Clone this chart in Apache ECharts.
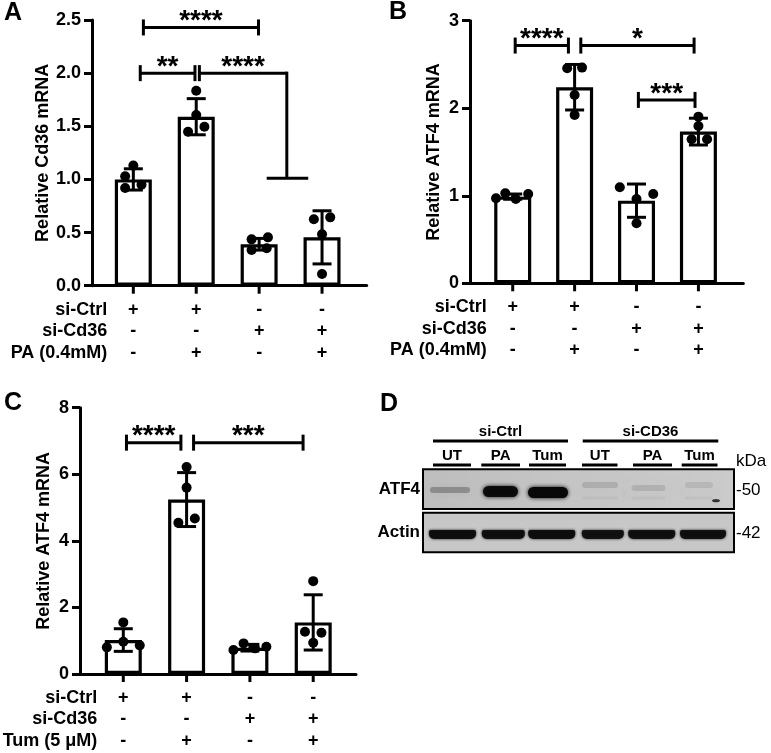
<!DOCTYPE html>
<html>
<head>
<meta charset="utf-8">
<script src="https://cdn.jsdelivr.net/npm/echarts@6/dist/echarts.min.js"></script>
<style>
html, body { margin: 0; padding: 0; background: #fff; }
#chart { width: 771px; height: 753px; }
</style>
</head>
<body>
<div id="chart"></div>
<script>
// treatment table under the bars
let siCtrl = ['+', '+', '-', '-']
let siCd36 = ['-', '-', '+', '+']
let drug = ['-', '+', '-', '+']

// A: Cd36 mRNA
let meanA = [1.0, 1.59, 0.39, 0.455]
let sdA = [0.1, 0.17, 0.055, 0.25]
let dotsA = [[1.13, 1.03, 0.92, 0.95], [1.834, 1.606, 1.449, 1.496], [0.436, 0.455, 0.336, 0.352], [0.625, 0.643, 0.483, 0.11]]
let jitA = [[0, -0.13, -0.13, 0.13], [0, 0, -0.13, 0.13], [-0.12, 0.14, -0.12, 0.12], [-0.13, 0.13, 0, 0]]
// [from, to, height, stars, drop to, cross from, cross to]
let sigA = [
  [0.16, 1.99, 2.43, '****'],
  [0.11, 0.98, 2.0, '**'],
  [1.05, 2.44, 2.0, '****', 1.01, 2.12, 2.78]
]

// B: ATF4 mRNA (PA)
let meanB = [0.99, 2.24, 0.944, 1.733]
let sdB = [0.03, 0.26, 0.19, 0.153]
let dotsB = [[0.971, 1.029, 0.963, 1.02], [2.457, 2.464, 2.152, 1.923], [1.097, 0.963, 1.02, 0.686], [1.904, 1.798, 1.646, 1.646]]
let jitB = [[-0.27, -0.12, 0.05, 0.25], [-0.12, 0.12, 0, 0], [-0.27, 0, 0.27, 0], [0, 0, -0.11, 0.14]]
let sigB = [
  [0.04, 0.9, 2.716, '****'],
  [1.1, 2.93, 2.716, '*'],
  [2.03, 2.945, 2.095, '***']
]

// C: ATF4 mRNA (Tum)
let meanC = [1.02, 5.24, 0.79, 1.55]
let sdC = [0.34, 0.81, 0.1, 0.83]
let dotsC = [[1.55, 0.97, 0.8, 0.86], [6.22, 5.6, 4.54, 4.67], [0.72, 0.92, 0.77, 0.82], [2.79, 1.27, 1.24, 0.94]]
let jitC = [[0, 0, -0.26, 0.26], [0, 0, -0.13, 0.13], [-0.26, -0.1, 0.08, 0.26], [0, -0.13, 0.13, 0]]
let sigC = [
  [0.05, 0.91, 6.95, '****'],
  [1.11, 2.84, 6.95, '***']
]

// D: western blot
let groups = ['si-Ctrl', 'si-CD36']
let lanes = ['UT', 'PA', 'Tum', 'UT', 'PA', 'Tum']
let atf4Level = [0.26, 0.95, 1.0, 0.12, 0.11, 0.09]
let actinLevel = [0.95, 0.93, 0.95, 0.9, 0.92, 0.93]
let kda = ['-50', '-42']

const FONT = 'Liberation Sans'
const INK = '#000'

let panels = [
  { grid: { left: 92, top: 20, width: 274.7, height: 265.7 }, xMin: -0.657, xMax: 3.71, yMax: 2.5, yStep: 0.5, dec: 1,
    name: 'Relative Cd36 mRNA', nameGap: 39, mean: meanA, sd: sdA, dots: dotsA, jit: jitA, sig: sigA,
    rows: ['si-Ctrl', 'si-Cd36', 'PA (0.4mM)'], marks: [siCtrl, siCd36, drug] },
  { grid: { left: 470, top: 20.7, width: 273.3, height: 262.6 }, xMin: -0.69, xMax: 3.725, yMax: 3, yStep: 1, dec: 0,
    name: 'Relative ATF4 mRNA', nameGap: 27, mean: meanB, sd: sdB, dots: dotsB, jit: jitB, sig: sigB,
    rows: ['si-Ctrl', 'si-Cd36', 'PA (0.4mM)'], marks: [siCtrl, siCd36, drug] },
  { grid: { left: 80, top: 407.7, width: 276, height: 266.3 }, xMin: -0.684, xMax: 3.676, yMax: 8, yStep: 2, dec: 0,
    name: 'Relative ATF4 mRNA', nameGap: 27, mean: meanC, sd: sdC, dots: dotsC, jit: jitC, sig: sigC,
    rows: ['si-Ctrl', 'si-Cd36', 'Tum (5 \u03bcM)'], marks: [siCtrl, siCd36, drug] }
]

let rowOff = [24, 45.5, 67]

function txt(text, x, y, size, bold, align) {
  return { type: 'text', style: { text: text, x: x, y: y, fill: INK, fontSize: size, fontWeight: bold ? 'bold' : 'normal',
    fontFamily: FONT, align: align || 'center', verticalAlign: 'middle' } }
}
function seg(x1, y1, x2, y2, w) {
  return { type: 'line', shape: { x1: x1, y1: y1, x2: x2, y2: y2 }, style: { stroke: INK, lineWidth: w || 3 } }
}

let grids = [], xAxes = [], yAxes = [], series = []
panels.forEach((p, k) => {
  grids.push(p.grid)
  xAxes.push({ type: 'value', gridIndex: k, min: p.xMin, max: p.xMax,
    axisLine: { show: true, onZero: false, lineStyle: { color: INK, width: 3 } },
    axisTick: { show: false }, axisLabel: { show: false }, splitLine: { show: false } })
  yAxes.push({ type: 'value', gridIndex: k, min: 0, max: p.yMax, interval: p.yStep,
    name: p.name, nameLocation: 'middle', nameGap: p.nameGap,
    nameTextStyle: { color: INK, fontSize: 18, fontWeight: 'bold', fontFamily: FONT },
    axisLine: { show: true, onZero: false, lineStyle: { color: INK, width: 3 } },
    axisTick: { show: true, length: 8, lineStyle: { color: INK, width: 3 } },
    axisLabel: { color: INK, fontSize: 18, fontWeight: 'bold', fontFamily: FONT, margin: 11,
      formatter: v => v.toFixed(p.dec) },
    splitLine: { show: false } })

  series.push({ type: 'bar', xAxisIndex: k, yAxisIndex: k, silent: true, z: 2,
    barWidth: 37, data: p.mean.map((v, i) => [i, v]),
    itemStyle: { color: '#fff', borderColor: INK, borderWidth: 3.2 } })

  series.push({ type: 'custom', xAxisIndex: k, yAxisIndex: k, silent: true, z: 3,
    data: p.mean.map((v, i) => [i, v - p.sd[i], v + p.sd[i]]),
    encode: { x: 0, y: [1, 2] },
    renderItem: (params, api) => {
      let lo = api.coord([api.value(0), api.value(1)])
      let hi = api.coord([api.value(0), api.value(2)])
      let h = 9.5
      return { type: 'group', children: [
        seg(lo[0], lo[1], hi[0], hi[1]),
        seg(lo[0] - h, lo[1], lo[0] + h, lo[1]),
        seg(hi[0] - h, hi[1], hi[0] + h, hi[1])
      ] }
    } })

  let pts = []
  p.dots.forEach((arr, i) => arr.forEach((v, j) => pts.push([i + p.jit[i][j], v])))
  series.push({ type: 'scatter', xAxisIndex: k, yAxisIndex: k, silent: true, z: 4,
    symbolSize: 10, data: pts, itemStyle: { color: INK, opacity: 1 } })

  series.push({ type: 'custom', xAxisIndex: k, yAxisIndex: k, silent: true, z: 5,
    data: p.sig.map(s => [s[0], s[2], s[1]]),
    encode: { x: [0, 2], y: 1 },
    renderItem: (params, api) => {
      let s = p.sig[params.dataIndex]
      let a = api.coord([s[0], s[2]])
      let b = api.coord([s[1], s[2]])
      let kids = [seg(a[0], a[1], b[0], b[1]), seg(a[0], a[1] - 8, a[0], a[1] + 8)]
      if (s[4] == null) {
        kids.push(seg(b[0], b[1] - 8, b[0], b[1] + 8))
      } else {
        let d = api.coord([s[1], s[4]])
        let c1 = api.coord([s[5], s[4]])
        let c2 = api.coord([s[6], s[4]])
        kids.push(seg(b[0], b[1] - 1.5, d[0], d[1]))
        kids.push(seg(c1[0], c1[1], c2[0], c2[1]))
      }
      kids.push(txt(s[3], (a[0] + b[0]) / 2, a[1] - 6, 28, true))
      return { type: 'group', children: kids }
    } })

  series.push({ type: 'custom', xAxisIndex: k, yAxisIndex: k, silent: true, z: 5,
    data: p.mean.map((v, i) => [i, 0]),
    renderItem: (params, api) => {
      let i = params.dataIndex
      let o = api.coord([i, 0])
      let kids = [seg(o[0], o[1], o[0], o[1] + 8)]
      p.marks.forEach((row, r) => {
        kids.push(txt(row[i], o[0], o[1] + rowOff[r], 18, true))
        if (i === 0) kids.push(txt(p.rows[r], o[0] - 26, o[1] + rowOff[r], 18, true, 'right'))
      })
      return { type: 'group', children: kids }
    } })
})

// blot panel
let laneX = [452, 500.7, 547.5, 599.8, 652.5, 699.6]
let laneSpan = [[433, 471], [481.3, 520], [529, 566], [582, 617.5], [633, 672], [681.7, 717.5]]
let groupSpan = [[433, 568], [582.7, 718.3]]
let blot = []
groups.forEach((g, i) => {
  let s = groupSpan[i]
  blot.push(txt(g, (s[0] + s[1]) / 2, 432, 15, true))
  blot.push(seg(s[0], 441, s[1], 441, 3))
})
lanes.forEach((l, i) => {
  let s = laneSpan[i]
  blot.push(txt(l, laneX[i], 456, 15, true))
  blot.push(seg(s[0], 465, s[1], 465, 3))
})
blot.push(txt('kDa', 736, 461, 17, false, 'left'))
blot.push({ type: 'rect', shape: { x: 423, y: 469.3, width: 311, height: 39.7 },
  style: { fill: { type: 'linear', x: 0, y: 0, x2: 1, y2: 0, colorStops: [
    { offset: 0, color: '#bdbdbd' }, { offset: 0.5, color: '#c6c6c6' }, { offset: 1, color: '#cbcbcb' }] },
    stroke: INK, lineWidth: 2 } })
blot.push({ type: 'rect', shape: { x: 423, y: 512.7, width: 311, height: 39.5 },
  style: { fill: '#c7c7c7', stroke: INK, lineWidth: 2 } })
blot.push(txt('ATF4', 420, 489.5, 17, true, 'right'))
blot.push(txt('Actin', 420, 532, 17, true, 'right'))
blot.push(txt(kda[0], 736, 490, 17, false, 'left'))
blot.push(txt(kda[1], 736, 533, 17, false, 'left'))

let atf4X = [450, 500.5, 548, 600, 648.5, 699]
let atf4Y = [490, 491.5, 492.5, 485, 488, 485]
let atf4W = [40, 35, 40, 36, 34, 28]
atf4Level.forEach((v, i) => {
  let strong = v > 0.5
  let h = strong ? 11 : 6
  let c = 'rgba(8,8,8,' + v + ')'
  blot.push({ type: 'rect', z: 10,
    shape: { x: atf4X[i] - atf4W[i] / 2, y: atf4Y[i] - h / 2, width: atf4W[i], height: h, r: h / 2 },
    style: { fill: c, shadowBlur: strong ? 4 : 10, shadowColor: c } })
  if (!strong && i > 2) {
    blot.push({ type: 'rect', z: 10,
      shape: { x: atf4X[i] - atf4W[i] / 2, y: 496.5, width: atf4W[i], height: 3, r: 1.5 },
      style: { fill: 'rgba(8,8,8,0.04)', shadowBlur: 8, shadowColor: 'rgba(8,8,8,0.05)' } })
  }
})
blot.push({ type: 'ellipse', z: 10, shape: { cx: 716, cy: 500.7, rx: 4, ry: 1.6 },
  style: { fill: 'rgba(0,0,0,0.75)' } })

let actinX = [452.5, 503.3, 551.7, 602.8, 651.7, 703]
let actinW = [47, 43, 47, 42, 47, 46]
actinLevel.forEach((v, i) => {
  let c = 'rgba(12,12,12,' + v + ')'
  blot.push({ type: 'rect', z: 10,
    shape: { x: actinX[i] - actinW[i] / 2, y: 530, width: actinW[i], height: 9, r: [2, 2, 5, 5] },
    style: { fill: c, shadowBlur: 3, shadowColor: c } })
})

let letters = [['A', 4, 13], ['B', 389, 12], ['C', 4, 403], ['D', 380, 404]]
letters.forEach(l => blot.push(txt(l[0], l[1], l[2], 25, true, 'left')))

let ch = echarts.init(document.getElementById('chart'))
ch.setOption({
  animation: false,
  backgroundColor: '#fff',
  grid: grids,
  xAxis: xAxes,
  yAxis: yAxes,
  series: series,
  graphic: { elements: blot }
})
</script>
</body>
</html>
